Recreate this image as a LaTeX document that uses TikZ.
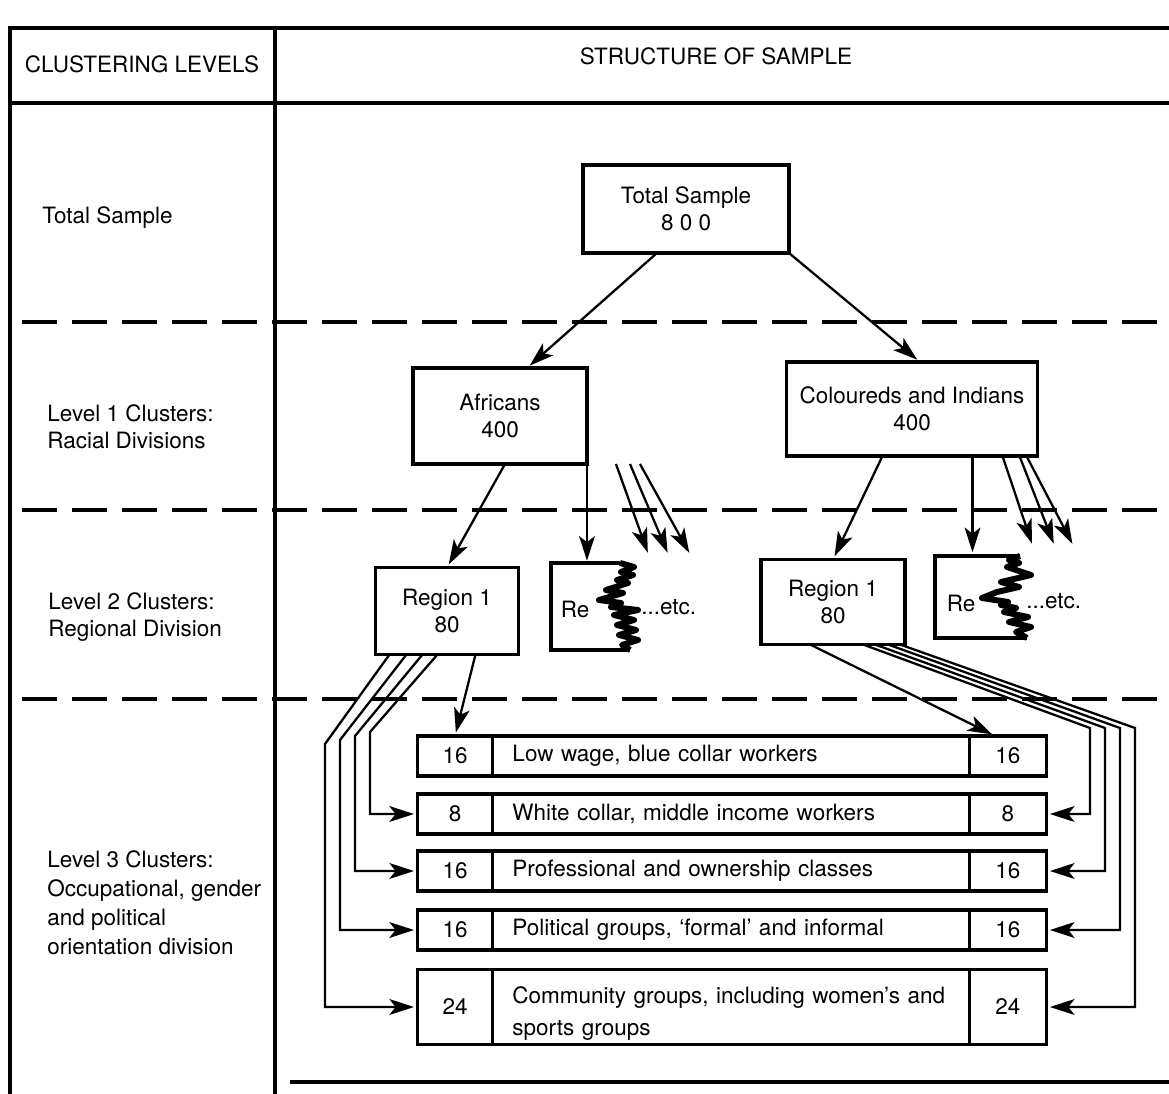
\documentclass[tikz,border=0pt]{standalone}
\usepackage{fontspec}
\setmainfont{TeX Gyre Heros}
\usetikzlibrary{arrows.meta, positioning}

\begin{document}
\begin{tikzpicture}[x=0.02cm, y=-0.02cm,
        font=\fontsize{12.8}{15.5}\selectfont,
        box/.style={draw, line width=2pt, align=center, outer sep=0pt},
        cell/.style={draw, line width=2pt, outer sep=0pt, minimum height=0.8cm, inner sep=0pt},
        lvl/.style={anchor=west, align=left, inner sep=0pt},
        arr/.style={line width=1.3pt, -{Stealth[length=14pt, width=9pt, inset=3.5pt]}, shorten >=2pt},
        jag/.style={line width=3.4pt, line join=round},
        sep/.style={line width=2.8pt, dash pattern=on 0.7cm off 0.3cm},
        frame/.style={line width=2.4pt}]
        \useasboundingbox (0,0) rectangle (1169,1094);

        % table frame
        \draw[frame] (10,1094) -- (10,28) -- (1169,28);
        \draw[frame] (10,103) -- (1169,103);
        \draw[frame] (275,28) -- (275,1094);
        \draw[frame] (290,1082) -- (1169,1082);
        \node (hl) at (142,64) {CLUSTERING LEVELS};
        \node (hr) at (716,56) {STRUCTURE OF SAMPLE};

        % level separators
        \draw[sep] (22,322) -- (1169,322);
        \draw[sep] (22,510) -- (1169,510);
        \draw[sep] (22,699) -- (1169,699);

        % left column
        \node[lvl] (lv0) at (42,218) {Total Sample};
        \node[lvl] (lv1) at (47,427) {Level 1 Clusters:\\Racial Divisions};
        \node[lvl] (lv2) at (48,617) {Level 2 Clusters:\\Regional Division};
        \node[lvl, font=\fontsize{12.8}{16.5}\selectfont] (lv3) at (47,903) {Level 3 Clusters:\\Occupational, gender\\and political\\orientation division};

        % sample tree
        \node[box, minimum width=4.12cm, minimum height=1.76cm] (T) at (686,209) {Total Sample\\8 0 0};
        \node[box, minimum width=3.48cm, minimum height=1.92cm] (A) at (500,416) {Africans\\400};
        \node[box, minimum width=5.02cm, minimum height=1.88cm] (C) at (912,409) {Coloureds and Indians\\400};
        \node[box, minimum width=2.86cm, minimum height=1.74cm] (RL) at (447,611) {Region 1\\80};
        \node[box, minimum width=2.88cm, minimum height=1.7cm] (RR) at (833,602) {Region 1\\80};

        % torn boxes
        \node[minimum width=1.7cm, minimum height=1.7cm] (JL) at (592,607) {};
        \draw[line width=2pt] (620,563) -- (551,563) -- (551,650) -- (630,650);
        \draw[jag] (620,563) -- (634,567) -- (621,572) -- (633,575) -- (617,580) -- (628,583)
            -- (606,590) -- (623,593) -- (599,600) -- (621,603) -- (611,607) -- (638,610)
            -- (614,615) -- (634,620) -- (617,625) -- (636,630) -- (619,635) -- (638,640)
            -- (622,645) -- (630,650);
        \node (reL) at (575,609) {Re};
        \node[anchor=west, inner sep=0pt] (etcL) at (641,607) {...etc.};

        \node[minimum width=1.7cm, minimum height=1.64cm] (JR) at (978,597) {};
        \draw[line width=2pt] (1020,556) -- (935,556) -- (935,638) -- (1027,638);
        \draw[jag] (1020,556) -- (1009,560) -- (1019,563) -- (1007,567) -- (1031,575) -- (1001,582)
            -- (1019,587) -- (997,592) -- (982,598) -- (1008,602) -- (1001,605) -- (1016,608)
            -- (1004,612) -- (1028,617) -- (1009,622) -- (1031,627) -- (1016,632) -- (1027,638);
        \node (reR) at (961,603) {Re};
        \node[anchor=west, inner sep=0pt] (etcR) at (1026,601) {...etc.};

        % level 3 rows
        \node[cell, minimum width=1.5cm] (l1) at (455,756) {16};
        \node[cell, right=0pt of l1, text width=8.74cm, inner xsep=0.4cm, align=left] (m1) {Low wage, blue collar workers};
        \node[cell, minimum width=1.54cm, right=0pt of m1] (r1) {16};

        \node[cell, minimum width=1.5cm] (l2) at (455,814) {8};
        \node[cell, right=0pt of l2, text width=8.74cm, inner xsep=0.4cm, align=left] (m2) {White collar, middle income workers};
        \node[cell, minimum width=1.54cm, right=0pt of m2] (r2) {8};

        \node[cell, minimum width=1.5cm] (l3) at (455,871) {16};
        \node[cell, right=0pt of l3, text width=8.74cm, inner xsep=0.4cm, align=left] (m3) {Professional and ownership classes};
        \node[cell, minimum width=1.54cm, right=0pt of m3] (r3) {16};

        \node[cell, minimum width=1.5cm] (l4) at (455,930) {16};
        \node[cell, right=0pt of l4, text width=8.74cm, inner xsep=0.4cm, align=left] (m4) {Political groups, ‘formal’ and informal};
        \node[cell, minimum width=1.54cm, right=0pt of m4] (r4) {16};

        \node[cell, minimum width=1.5cm, minimum height=1.5cm] (l5) at (455,1007) {24};
        \node[cell, minimum height=1.5cm, right=0pt of l5, text width=8.74cm, inner xsep=0.4cm, align=left,
            font=\fontsize{12.8}{18}\selectfont] (m5) {\rule{0pt}{0.6cm}Community groups, including women’s and\\sports groups};
        \node[cell, minimum width=1.54cm, minimum height=1.5cm, right=0pt of m5] (r5) {24};

        % tree arrows
        \draw[arr] ([xshift=1.48cm]T.south west) -- ([xshift=0.54cm]A.north);
        \draw[arr] (T.south east) -- ([xshift=0.16cm]C.north);
        \draw[arr] ([xshift=1.84cm]A.south west) -- (RL.north);
        \draw[arr] (A.south east) -- (JL.north -| A.south east);
        \draw[arr] ([xshift=1.92cm]C.south west) -- (RR.north);
        \draw[arr] ([xshift=3.72cm]C.south west) -- ([xshift=3.72cm]C.south west |- JR.north);
        \foreach \s/\e [count=\i] in {0.58/649, 0.86/669, 1.06/691} {
            \coordinate (af\i) at (\e,556);
            \draw[arr] ([xshift=\s cm]A.south east) -- (af\i);
        }
        \foreach \s/\e [count=\i] in {-0.7/1033, -0.36/1055, -0.22/1074} {
            \coordinate (cf\i) at (\e,547);
            \draw[arr] ([xshift=\s cm]C.south east) -- (cf\i);
        }

        % region to occupational groups
        \draw[arr] ([xshift=-0.86cm]RL.south east) -- (l1.north);
        \draw[arr] ([xshift=1.24cm]RL.south west) -- (370,732) |- (l2.west);
        \draw[arr] ([xshift=0.94cm]RL.south west) -- (355,736) |- (l3.west);
        \draw[arr] ([xshift=0.62cm]RL.south west) -- (340,740) |- (l4.west);
        \draw[arr] ([xshift=0.28cm]RL.south west) -- (325,744) |- (l5.west);

        \draw[arr] ([xshift=0.98cm]RR.south west) -- ([xshift=-0.25cm]r1.north);
        \draw[arr] ([xshift=-0.84cm]RR.south east) -- (1090,728) |- (r2.east);
        \draw[arr] ([xshift=-0.6cm]RR.south east) -- (1105,728) |- (r3.east);
        \draw[arr] ([xshift=-0.34cm]RR.south east) -- (1120,728) |- (r4.east);
        \draw[arr] ([xshift=-0.1cm]RR.south east) -- (1135,728) |- (r5.east);
\end{tikzpicture}
\end{document}
